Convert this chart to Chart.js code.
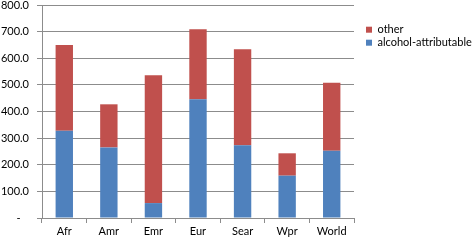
<!DOCTYPE html>
<html>
<head>
<meta charset="utf-8">
<script src="https://cdn.jsdelivr.net/npm/chart.js@4/dist/chart.umd.min.js"></script>
<style>
  html, body { margin: 0; padding: 0; background: #ffffff; }
  #wrap { width: 472px; height: 241px; }
</style>
</head>
<body>
<div id="wrap"><canvas id="c" width="472" height="241"></canvas></div>
<script>
// ---- data ----
const categories = ["Afr", "Amr", "Emr", "Eur", "Sear", "Wpr", "World"];
const alcoholAttributable = [328, 265, 56, 446, 273, 159, 253];
const other = [322, 162, 480, 263, 361, 84, 255];
const seriesNames = ["alcohol-attributable", "other"];
const yTickMax = 800;
const yTickStep = 100;

const FONT = "Lato, 'Liberation Sans', sans-serif";
const GRID = "#8c8c8c";

const legendFix = {
  id: "legendFix",
  afterInit(chart) {
    const lg = chart.legend;
    if (!lg) return;
    const f = lg.fit;
    lg.fit = function () { f.call(this); this.width = 108; };
  }
};

new Chart(document.getElementById("c"), {
  type: "bar",
  data: {
    labels: categories,
    datasets: [
      { label: seriesNames[0], data: alcoholAttributable, backgroundColor: "#4F81BD", borderWidth: 0 },
      { label: seriesNames[1], data: other, backgroundColor: "#C0504D", borderWidth: 0 }
    ]
  },
  options: {
    responsive: false,
    animation: false,
    devicePixelRatio: 1,
    layout: { padding: { left: 0, right: 0, top: 0, bottom: 0 } },
    datasets: { bar: { categoryPercentage: 1.0, barPercentage: 0.39 } },
    plugins: {
      tooltip: { enabled: false },
      legend: {
        position: "right",
        align: "start",
        reverse: true,
        title: { display: true, text: "", padding: { top: 9, bottom: 0 }, font: { size: 11, family: FONT } },
        labels: {
          boxWidth: 6, boxHeight: 6, padding: 2,
          color: "#000000",
          font: { size: 11, family: FONT }
        }
      }
    },
    scales: {
      x: {
        stacked: true,
        offset: true,
        grid: { display: true, drawOnChartArea: false, drawTicks: true, tickLength: 5, offset: true, color: GRID },
        border: { display: true, color: GRID },
        ticks: { color: "#000000", padding: 2, font: { size: 11, family: FONT } },
        afterFit(s) { s.height = 23; }
      },
      y: {
        stacked: true,
        min: 0,
        max: yTickMax,
        grid: { color: GRID, drawTicks: true, tickLength: 5 },
        border: { display: true, color: GRID },
        ticks: {
          stepSize: yTickStep,
          color: "#000000",
          padding: 8,
          font: { size: 11, family: FONT, lineHeight: 1 },
          callback: (v) => (v === 0 ? "-   " : Number(v).toFixed(1))
        },
        afterFit(s) { s.width = 42; s.paddingTop = 5; s.paddingBottom = 5; }
      },
      gap: {
        type: "linear",
        position: "right",
        display: true,
        grid: { display: false },
        border: { display: false },
        ticks: { display: false },
        afterFit(s) { s.width = 10; }
      }
    }
  },
  plugins: [legendFix]
});
</script>
</body>
</html>
